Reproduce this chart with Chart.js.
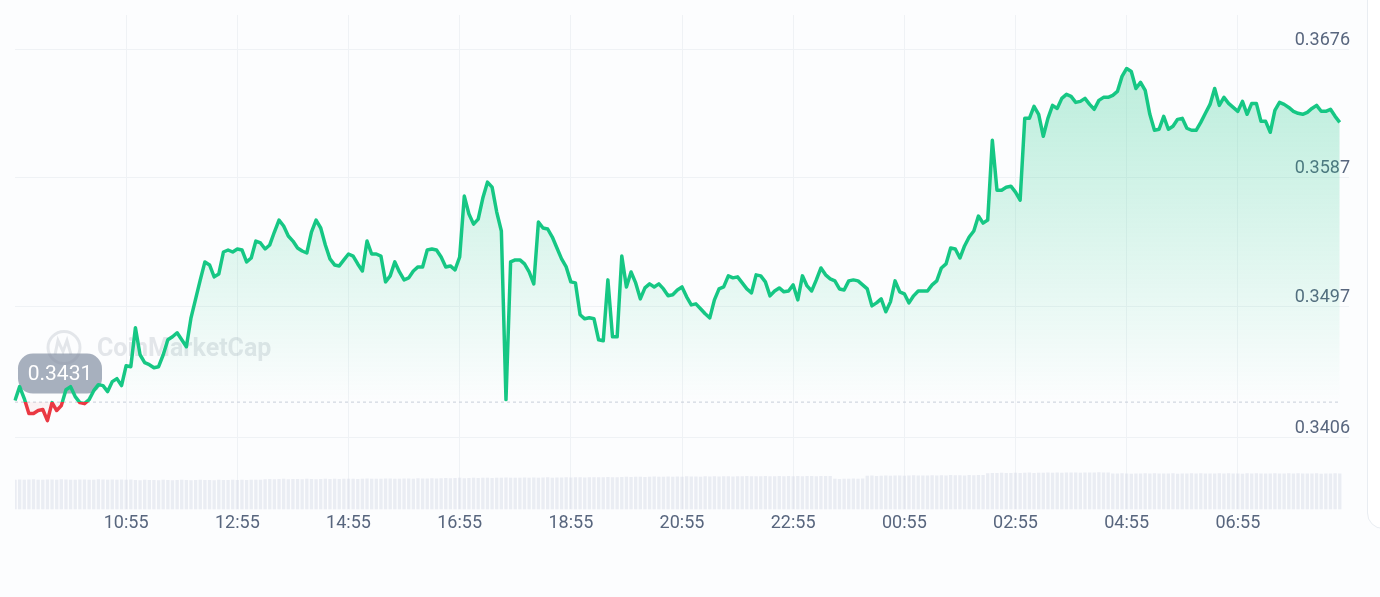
<!DOCTYPE html>
<html>
<head>
<meta charset="utf-8">
<script src="https://cdn.jsdelivr.net/npm/chart.js@4.4.1/dist/chart.umd.min.js"></script>
<style>
  html, body { margin: 0; padding: 0; background: #fcfdfe; }
  body { width: 1380px; height: 597px; position: relative; overflow: hidden; font-family: Roboto, sans-serif; }
  #wrap { position: absolute; left: 0; top: 0; width: 1366px; height: 545px; }
  #side { position: absolute; left: 1367px; top: -30px; width: 60px; height: 557px;
          border: 1px solid #e9edf2; border-radius: 16px; background: #fff; }
</style>
</head>
<body>
<div id="wrap"><canvas id="chart"></canvas></div>
<div id="side"></div>
<script>
// 5-minute slots over 24h, starting 08:55
const startHour = 8;
const startMinute = 55;
const stepMinutes = 5;
const slotCount = 289;
const times = [];
for (let i = 0; i < slotCount; i++) {
  const m = (startHour * 60 + startMinute + i * stepMinutes) % 1440;
  times.push(String(Math.floor(m / 60)).padStart(2, "0") + ":" + String(m % 60).padStart(2, "0"));
}

const openPrice = 0.3431;

const prices = [
  0.34318, 0.34414, 0.34331, 0.34227, 0.34227, 0.34248, 0.34255, 0.34178, 0.34303, 0.34248,
  0.34282, 0.34393, 0.34414, 0.34345, 0.34303, 0.34296, 0.34324, 0.34386, 0.34428, 0.34421,
  0.34380, 0.34449, 0.34470, 0.34421, 0.34560, 0.34553, 0.34824, 0.34636, 0.34581, 0.34567,
  0.34546, 0.34553, 0.34636, 0.34740, 0.34761, 0.34789, 0.34740, 0.34692, 0.34893, 0.35025,
  0.35157, 0.35282, 0.35261, 0.35178, 0.35198, 0.35351, 0.35365, 0.35351, 0.35372, 0.35365,
  0.35282, 0.35309, 0.35427, 0.35414, 0.35372, 0.35400, 0.35490, 0.35573, 0.35532, 0.35462,
  0.35427, 0.35379, 0.35358, 0.35344, 0.35490, 0.35573, 0.35518, 0.35400, 0.35303, 0.35261,
  0.35254, 0.35296, 0.35337, 0.35323, 0.35268, 0.35219, 0.35427, 0.35337, 0.35337, 0.35323,
  0.35143, 0.35185, 0.35282, 0.35212, 0.35157, 0.35171, 0.35219, 0.35247, 0.35247, 0.35365,
  0.35372, 0.35365, 0.35316, 0.35247, 0.35254, 0.35226, 0.35316, 0.35740, 0.35615, 0.35545,
  0.35580, 0.35726, 0.35837, 0.35802, 0.35629, 0.35497, 0.34324, 0.35282, 0.35296, 0.35296,
  0.35268, 0.35212, 0.35129, 0.35559, 0.35518, 0.35511, 0.35455, 0.35379, 0.35303, 0.35247,
  0.35143, 0.35136, 0.34914, 0.34886, 0.34893, 0.34886, 0.34740, 0.34733, 0.35157, 0.34761,
  0.34761, 0.35323, 0.35108, 0.35212, 0.35136, 0.35025, 0.35101, 0.35129, 0.35108, 0.35129,
  0.35094, 0.35046, 0.35053, 0.35087, 0.35108, 0.35039, 0.34983, 0.34990, 0.34956, 0.34921,
  0.34893, 0.35018, 0.35094, 0.35108, 0.35185, 0.35171, 0.35178, 0.35136, 0.35094, 0.35067,
  0.35192, 0.35185, 0.35143, 0.35046, 0.35080, 0.35101, 0.35074, 0.35080, 0.35122, 0.35018,
  0.35185, 0.35115, 0.35080, 0.35157, 0.35240, 0.35192, 0.35164, 0.35150, 0.35094, 0.35087,
  0.35150, 0.35157, 0.35150, 0.35122, 0.35094, 0.34976, 0.34997, 0.35025, 0.34935, 0.35004,
  0.35150, 0.35074, 0.35060, 0.34997, 0.35046, 0.35080, 0.35080, 0.35080, 0.35122, 0.35150,
  0.35240, 0.35268, 0.35379, 0.35372, 0.35309, 0.35393, 0.35455, 0.35497, 0.35601, 0.35552,
  0.35573, 0.36128, 0.35781, 0.35781, 0.35802, 0.35809, 0.35768, 0.35712, 0.36281, 0.36281,
  0.36364, 0.36309, 0.36156, 0.36281, 0.36371, 0.36350, 0.36420, 0.36448, 0.36434, 0.36392,
  0.36399, 0.36420, 0.36378, 0.36344, 0.36406, 0.36427, 0.36427, 0.36441, 0.36468, 0.36573,
  0.36628, 0.36607, 0.36489, 0.36531, 0.36475, 0.36309, 0.36198, 0.36205, 0.36295, 0.36205,
  0.36226, 0.36274, 0.36281, 0.36212, 0.36198, 0.36198, 0.36253, 0.36316, 0.36378, 0.36489,
  0.36371, 0.36427, 0.36385, 0.36357, 0.36330, 0.36399, 0.36309, 0.36385, 0.36385, 0.36260,
  0.36260, 0.36184, 0.36337, 0.36392, 0.36378, 0.36357, 0.36330, 0.36316, 0.36309, 0.36323,
  0.36350, 0.36371, 0.36330, 0.36330, 0.36344, 0.36295, 0.36253
];

// volume, millions
const volumes = [
  30.1, 30.3, 30.0, 30.2, 30.4, 30.1, 30.0, 30.3, 30.2, 30.1, 30.4, 30.2, 30.0, 30.1, 30.3, 30.2, 30.0, 30.1, 30.4, 30.2,
  30.1, 30.3, 30.0, 30.2, 30.1, 30.3,
  29.8, 29.6, 29.9, 29.7, 29.8, 29.5, 29.9, 29.8, 29.6, 29.7, 29.9, 29.8, 29.6, 29.8, 29.9, 29.7, 29.8, 29.6, 29.9, 29.8,
  29.7, 30.0, 29.8, 29.9, 29.7, 30.0, 29.9, 30.1,
  30.6, 30.8, 30.5, 30.7, 30.9, 30.6, 30.8, 30.7, 30.5, 30.9, 30.8, 30.6, 30.7, 31.0, 30.8, 30.9, 30.7, 31.0, 30.9, 31.1,
  30.8, 31.0, 31.2, 30.9, 31.1, 31.0, 31.2, 31.3, 31.1, 31.0, 31.2, 31.3, 31.1, 31.4, 31.2, 31.3, 31.5, 31.2,
  31.6, 31.8, 31.5, 31.7, 31.9, 31.6, 31.8, 32.0, 31.7, 31.9, 32.1, 31.8, 32.0, 31.9, 32.2, 32.0, 32.1, 31.9, 32.3, 32.1,
  32.2, 32.0, 32.3, 32.4, 32.1, 32.3, 32.2, 32.5, 32.3, 32.4, 32.6, 32.3, 32.5, 32.4, 32.6, 32.5, 32.7, 32.4, 32.6,
  32.8, 33.0, 32.7, 32.9, 33.1, 32.8, 33.0, 33.2, 32.9, 33.1, 33.3, 33.0, 33.2, 33.1, 33.4, 33.2, 33.3, 33.1, 33.5, 33.3,
  33.4, 33.2, 33.5, 33.6, 33.3, 33.5, 33.4, 33.7, 33.5, 33.6, 33.4, 33.7, 33.5, 33.6, 33.8, 33.5, 33.7, 33.6, 33.8, 33.5,
  33.7, 33.9, 33.6, 33.8, 33.7, 33.9,
  31.0, 30.8, 31.1, 30.9, 31.2, 31.0, 31.3,
  34.0, 34.2, 33.9, 34.1, 34.3, 34.0, 34.2, 34.4, 34.1, 34.3, 34.5, 34.2, 34.4, 34.3, 34.6, 34.4, 34.5, 34.3, 34.7, 34.5,
  34.6, 34.4, 34.8, 34.6, 34.7, 34.9,
  36.6, 36.8, 36.9, 37.0, 36.7, 36.9, 37.1, 36.8, 37.0, 37.2, 36.9, 37.1, 37.0, 37.3, 37.1, 37.2, 37.0, 37.4, 37.2, 37.3,
  37.1, 37.4, 37.2, 37.3, 37.5, 37.2, 37.4,
  36.4, 36.2, 36.5, 36.3, 36.1, 36.4, 36.2, 36.5, 36.3, 36.6, 36.2, 36.4, 36.3, 36.5, 36.1, 36.4, 36.2, 36.6, 36.3, 36.5,
  36.2, 36.4, 36.3, 36.6, 36.2, 36.5, 36.3, 36.4, 36.1, 36.5, 36.3, 36.6, 36.2, 36.4, 36.3, 36.5, 36.2, 36.4, 36.6, 36.3,
  36.5, 36.2, 36.4, 36.3, 36.5, 36.1, 36.4, 36.2, 36.5, 36.3
];

const yTicks = [0.3406, 0.3497, 0.3587, 0.3676];
const xTicks = ["10:55", "12:55", "14:55", "16:55", "18:55", "20:55", "22:55", "00:55", "02:55", "04:55", "06:55"];

const green = "#16c784";
const red = "#ea3943";
const labelColor = "#58667e";
const gridColor = "#eff2f5";

function lineGradient(chart) {
  const { ctx, chartArea, scales } = chart;
  if (!chartArea) return green;
  const yb = scales.y.getPixelForValue(openPrice);
  const f = Math.min(1, Math.max(0, (yb - chartArea.top) / (chartArea.bottom - chartArea.top)));
  const g = ctx.createLinearGradient(0, chartArea.top, 0, chartArea.bottom);
  g.addColorStop(0, green);
  g.addColorStop(f, green);
  g.addColorStop(f, red);
  g.addColorStop(1, red);
  return g;
}

function fillGradient(chart) {
  const { ctx, chartArea, scales } = chart;
  if (!chartArea) return "rgba(22,199,132,0.1)";
  const yTop = scales.y.getPixelForValue(Math.max(...prices));
  const yb = scales.y.getPixelForValue(openPrice);
  const g = ctx.createLinearGradient(0, yTop, 0, chartArea.bottom);
  const f = (yb - yTop) / (chartArea.bottom - yTop);
  g.addColorStop(0, "rgba(22,199,132,0.28)");
  g.addColorStop(f * 0.5, "rgba(22,199,132,0.14)");
  g.addColorStop(f, "rgba(22,199,132,0.0)");
  g.addColorStop(f, "rgba(234,57,67,0.05)");
  g.addColorStop(1, "rgba(234,57,67,0.0)");
  return g;
}

// watermark, open price line and open price badge
const decorations = {
  id: "decorations",
  beforeDatasetsDraw(chart) {
    const { ctx, chartArea, scales } = chart;
    const yb = scales.y.getPixelForValue(openPrice);
    const xEnd = scales.x.getPixelForValue(prices.length - 1);
    ctx.save();

    // watermark
    ctx.strokeStyle = "rgba(128,138,157,0.2)";
    ctx.fillStyle = "rgba(128,138,157,0.2)";
    ctx.lineWidth = 3;
    ctx.beginPath();
    ctx.arc(64, yb - 54, 16, 0, Math.PI * 2);
    ctx.stroke();
    ctx.beginPath();
    ctx.moveTo(55, yb - 47);
    ctx.lineTo(58, yb - 61);
    ctx.lineTo(63, yb - 50);
    ctx.lineTo(67, yb - 61);
    ctx.lineTo(71, yb - 47);
    ctx.stroke();
    ctx.font = "bold 25px Roboto";
    ctx.textBaseline = "middle";
    ctx.textAlign = "left";
    ctx.fillText("CoinMarketCap", 97, yb - 52);

    // open price dashed line
    ctx.strokeStyle = "#c8ced9";
    ctx.lineWidth = 1;
    ctx.setLineDash([3, 3]);
    ctx.beginPath();
    ctx.moveTo(chartArea.left, yb + 0.5);
    ctx.lineTo(xEnd, yb + 0.5);
    ctx.stroke();
    ctx.setLineDash([]);

    // badge
    const bx = 18, bw = 84, bh = 40, by = yb - 48;
    ctx.fillStyle = "rgba(134,145,165,0.72)";
    ctx.beginPath();
    ctx.roundRect(bx, by, bw, bh, 15);
    ctx.fill();
    ctx.fillStyle = "#ffffff";
    ctx.font = "21px Roboto";
    ctx.textAlign = "center";
    ctx.fillText(openPrice.toFixed(4), bx + bw / 2, by + bh / 2 + 1);
    ctx.restore();
  }
};

new Chart(document.getElementById("chart"), {
  data: {
    labels: times,
    datasets: [
      {
        type: "line",
        label: "Price",
        data: prices,
        order: 0,
        yAxisID: "y",
        borderColor: (c) => lineGradient(c.chart),
        backgroundColor: (c) => fillGradient(c.chart),
        borderWidth: 3.5,
        borderJoinStyle: "round",
        tension: 0,
        pointRadius: 0,
        fill: { target: { value: openPrice } },
      },
      {
        type: "bar",
        label: "Volume",
        data: volumes,
        order: 1,
        yAxisID: "vol",
        backgroundColor: "rgba(210,215,228,0.42)",
        barPercentage: 0.72,
        categoryPercentage: 1,
      },
    ],
  },
  options: {
    responsive: true,
    maintainAspectRatio: false,
    animation: false,
    layout: { padding: { left: 15, right: 15, top: 15, bottom: 8 } },
    plugins: {
      legend: { display: false },
      tooltip: { enabled: false },
    },
    scales: {
      x: {
        type: "category",
        offset: false,
        grid: { color: gridColor, drawTicks: false, offset: false },
        border: { display: false },
        ticks: {
          autoSkip: false,
          maxRotation: 0,
          padding: 3,
          color: labelColor,
          font: { family: "Roboto", size: 18 },
        },
        afterBuildTicks: (scale) => {
          scale.ticks = scale.ticks.filter((t) => xTicks.includes(times[t.value]));
        },
      },
      y: {
        position: "right",
        min: 0.3356,
        max: 0.37,
        grid: { color: gridColor, drawTicks: false },
        border: { display: false },
        ticks: {
          mirror: true,
          padding: 1,
          labelOffset: -9,
          color: labelColor,
          font: { family: "Roboto", size: 18 },
          callback: (v) => Number(v).toFixed(4),
        },
        afterBuildTicks: (scale) => {
          scale.ticks = yTicks.map((v) => ({ value: v }));
        },
      },
      vol: {
        display: false,
        min: 0,
        max: 500,
      },
    },
  },
  plugins: [decorations],
});
</script>
</body>
</html>
